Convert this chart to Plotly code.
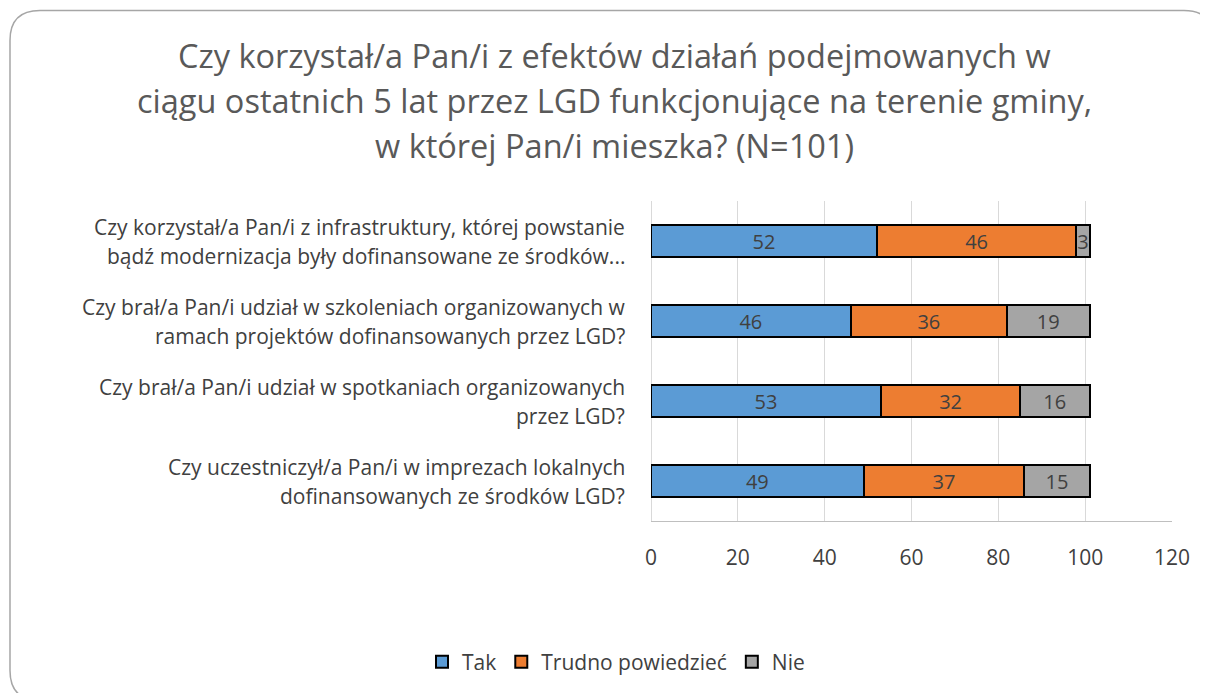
import plotly.graph_objects as go

QUESTIONS = [
    "Czy korzystał/a Pan/i z infrastruktury, której powstanie\nbądź modernizacja były dofinansowane ze środków...",
    "Czy brał/a Pan/i udział w szkoleniach organizowanych w\nramach projektów dofinansowanych przez LGD?",
    "Czy brał/a Pan/i udział w spotkaniach organizowanych\nprzez LGD?",
    "Czy uczestniczył/a Pan/i w imprezach lokalnych\ndofinansowanych ze środków LGD?",
]
TAK = [52, 46, 53, 49]
TRUDNO = [46, 36, 32, 37]
NIE = [3, 19, 16, 15]

TITLE_LINES = [
    "Czy korzystał/a Pan/i z efektów działań podejmowanych w",
    "ciągu ostatnich 5 lat przez LGD funkcjonujące na terenie gminy,",
    "w której Pan/i mieszka? (N=101)",
]

FONT = "Open Sans, Noto Sans, sans-serif"
TEXT = "#404040"
# the page body has an 8px margin, so the figure starts at (8, 8) on screen
OFF = 8
W, H = 1208 - OFF, 693 - OFF
L, R, T, B = 651, 1172, 201, 522  # plot area in screen pixels


def px_x(p):
    return (p - L) / (R - L)


def px_y(p):
    return (B - p) / (B - T)


def rounded_path(x0, y0, x1, y1, r):
    pts = [
        ("M", [(x0 + r, y0)]),
        ("L", [(x1 - r, y0)]),
        ("Q", [(x1, y0), (x1, y0 + r)]),
        ("L", [(x1, y1 - r)]),
        ("Q", [(x1, y1), (x1 - r, y1)]),
        ("L", [(x0 + r, y1)]),
        ("Q", [(x0, y1), (x0, y1 - r)]),
        ("L", [(x0, y0 + r)]),
        ("Q", [(x0, y0), (x0 + r, y0)]),
    ]
    out = ""
    for cmd, coords in pts:
        out += cmd + " " + " ".join(f"{px_x(a):.5f},{px_y(b):.5f}" for a, b in coords) + " "
    return out + "Z"


fig = go.Figure()
for name, vals, color in [
    ("Tak", TAK, "#5B9BD5"),
    ("Trudno powiedzieć", TRUDNO, "#ED7D31"),
    ("Nie", NIE, "#A5A5A5"),
]:
    fig.add_trace(go.Bar(
        name=name,
        x=vals,
        y=QUESTIONS,
        orientation="h",
        marker=dict(color=color, line=dict(color="#000000", width=2)),
        text=vals,
        textposition="inside",
        insidetextanchor="middle",
        textangle=0,
        constraintext="none",
        textfont=dict(size=20, color=TEXT, family=FONT),
        hovertemplate="%{x}<extra>" + name + "</extra>",
    ))

annotations = []
for i, line in enumerate(TITLE_LINES):
    annotations.append(dict(
        text=line, xref="paper", yref="paper",
        x=px_x(614), y=px_y(55 + 45 * i),
        xanchor="center", yanchor="middle", showarrow=False,
        font=dict(size=32.5, color="#595959", family=FONT),
    ))

for q in QUESTIONS:
    lines = q.split("\n")
    n = len(lines)
    for j, line in enumerate(lines):
        annotations.append(dict(
            text=line, xref="paper", yref="y",
            x=px_x(627), y=q,
            yshift=(n - 1) * 14.5 - 29 * j,
            xanchor="right", yanchor="middle", showarrow=False,
            font=dict(size=21, color=TEXT, family=FONT),
        ))

fig.update_layout(
    width=W, height=H,
    margin=dict(l=L - OFF, r=1208 - R, t=T - OFF, b=693 - B),
    paper_bgcolor="white",
    plot_bgcolor="white",
    font=dict(family=FONT, color=TEXT),
    barmode="stack",
    bargap=0.59,
    showlegend=True,
    legend=dict(
        orientation="h",
        x=px_x(616), xanchor="center",
        y=px_y(662), yanchor="middle",
        font=dict(size=21, color=TEXT, family=FONT),
        traceorder="normal",
        itemwidth=30,
    ),
    xaxis=dict(
        range=[0, 120], dtick=20,
        showgrid=True, gridcolor="#D9D9D9", gridwidth=1,
        zeroline=True, zerolinecolor="#D9D9D9", zerolinewidth=1,
        showline=True, linecolor="#BFBFBF", linewidth=1,
        ticks="", ticklabelstandoff=18,
        tickfont=dict(size=21, color=TEXT, family=FONT),
    ),
    yaxis=dict(
        showticklabels=False, showgrid=False, zeroline=False,
        autorange="reversed",
    ),
    annotations=annotations,
    shapes=[dict(
        type="path", xref="paper", yref="paper",
        path=rounded_path(10, 10, 1214, 702, 30),
        line=dict(color="#A6A6A6", width=1.5),
        fillcolor="rgba(0,0,0,0)",
        layer="below",
    )],
)

fig.write_html("out.html")
